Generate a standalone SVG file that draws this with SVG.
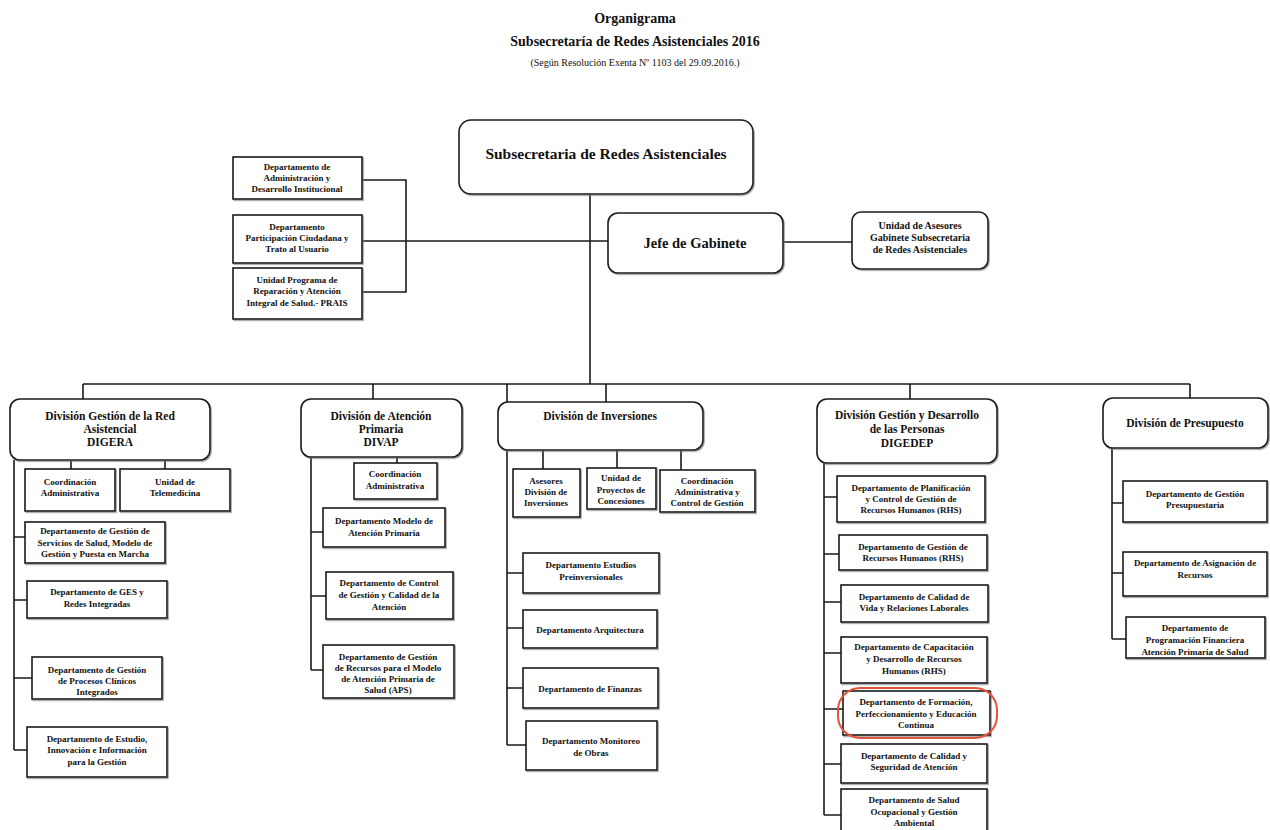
<svg xmlns="http://www.w3.org/2000/svg" width="1270" height="830" viewBox="0 0 1270 830">
<defs>
<filter id="sh" x="-5%" y="-5%" width="110%" height="115%">
<feDropShadow dx="1" dy="1.2" stdDeviation="0.6" flood-color="#777" flood-opacity="0.7"/>
</filter>
</defs>
<style>
text{font-family:"Liberation Serif","Times New Roman",serif;font-weight:bold;fill:#111;text-anchor:middle}
.box{fill:#fff;stroke:#1a1a1a;stroke-width:1.6;filter:url(#sh)}
.s{font-size:9px}
.m{font-size:10px}
.d{font-size:11.5px}
.l{font-size:14.5px}
.xl{font-size:15.5px}
.t{font-size:14px}
.st{font-size:10px;font-weight:normal}
#connectors path{fill:none;stroke:#1a1a1a;stroke-width:1.6}
.hl{fill:none;stroke:#e5533a;stroke-width:2}
</style>
<rect width="1270" height="830" fill="#fff"/>
<g id="title">
<text x="635" y="23" class="t">Organigrama</text>
<text x="635" y="46" class="t">Subsecretaría de Redes Asistenciales 2016</text>
<text x="635" y="66" class="st">(Según Resolución Exenta Nº 1103 del 29.09.2016.)</text>
</g>
<g id="connectors">
<path d="M590 194 V384"/>
<path d="M362 180 H406 V292 H362"/>
<path d="M362 241 H608"/>
<path d="M783 242 H852"/>
<path d="M83 384 H1190"/>
<path d="M83 384 V399 M373 384 V399 M507 384 V402 M606 384 V402 M910 384 V399 M1190 384 V398"/>
<path d="M71 460 V469 M165 460 V469"/>
<path d="M14 460 V750 M14 537 H25 M14 600 H27 M14 678 H32 M14 750 H27"/>
<path d="M397 457 V463"/>
<path d="M311 457 V670 M311 532 H323 M311 596 H326 M311 670 H323"/>
<path d="M543 450 V469 M617 450 V468 M681 450 V470"/>
<path d="M507 450 V745 M507 573 H523 M507 628 H523 M507 688 H523 M507 745 H526"/>
<path d="M824 463 V815 M824 497 H837 M824 554 H839 M824 602 H841 M824 653 H841 M824 709 H843 M824 764 H841 M824 815 H841"/>
<path d="M1112 448 V639 M1112 503 H1123 M1112 573 H1123 M1112 639 H1126"/>
</g>
<g id="subsecretaria">
<rect class="box" x="459" y="120" width="294" height="74" rx="12"/>
<text x="606" y="159" class="xl">Subsecretaria de Redes Asistenciales</text>
</g>
<g id="jefe-gabinete">
<rect class="box" x="608" y="213" width="175" height="60" rx="10"/>
<text x="695" y="248" class="l">Jefe de Gabinete</text>
</g>
<g id="unidad-asesores">
<rect class="box" x="852" y="212" width="136" height="57" rx="9"/>
<text x="920" y="229" class="m">Unidad de Asesores</text>
<text x="920" y="241" class="m">Gabinete Subsecretaria</text>
<text x="920" y="253" class="m">de Redes Asistenciales</text>
</g>
<g id="depto-administracion">
<rect class="box" x="233" y="157" width="129" height="42"/>
<text x="297" y="170" class="s">Departamento de</text>
<text x="297" y="181" class="s">Administración y</text>
<text x="297" y="192" class="s">Desarrollo Institucional</text>
</g>
<g id="depto-participacion">
<rect class="box" x="233" y="215" width="129" height="48"/>
<text x="297" y="230" class="s">Departamento</text>
<text x="297" y="241" class="s">Participación Ciudadana y</text>
<text x="297" y="252" class="s">Trato al Usuario</text>
</g>
<g id="unidad-prais">
<rect class="box" x="233" y="268" width="129" height="51"/>
<text x="297" y="283" class="s">Unidad Programa de</text>
<text x="297" y="294" class="s">Reparación y Atención</text>
<text x="297" y="306" class="s">Integral de Salud.- PRAIS</text>
</g>
<g id="digera">
<rect class="box" x="10" y="399" width="200" height="61" rx="10"/>
<text x="110" y="420" class="d">División Gestión de la Red</text>
<text x="110" y="433" class="d">Asistencial</text>
<text x="110" y="446" class="d">DIGERA</text>
</g>
<g id="digera-coord">
<rect class="box" x="25" y="469" width="90" height="42"/>
<text x="70" y="485" class="s">Coordinación</text>
<text x="70" y="496" class="s">Administrativa</text>
</g>
<g id="digera-telemedicina">
<rect class="box" x="120" y="469" width="110" height="42"/>
<text x="175" y="485" class="s">Unidad de</text>
<text x="175" y="496" class="s">Telemedicina</text>
</g>
<g id="digera-servicios">
<rect class="box" x="25" y="522" width="140" height="41"/>
<text x="95" y="534" class="s">Departamento de Gestión de</text>
<text x="95" y="546" class="s">Servicios de Salud, Modelo de</text>
<text x="95" y="557" class="s">Gestión y Puesta en Marcha</text>
</g>
<g id="digera-ges">
<rect class="box" x="27" y="581" width="140" height="37"/>
<text x="97" y="595" class="s">Departamento de GES y</text>
<text x="97" y="607" class="s">Redes Integradas</text>
</g>
<g id="digera-procesos">
<rect class="box" x="32" y="657" width="130" height="42"/>
<text x="97" y="673" class="s">Departamento de Gestión</text>
<text x="97" y="684" class="s">de Procesos Clínicos</text>
<text x="97" y="695" class="s">Integrados</text>
</g>
<g id="digera-estudio">
<rect class="box" x="27" y="727" width="140" height="50"/>
<text x="97" y="742" class="s">Departamento de Estudio,</text>
<text x="97" y="753" class="s">Innovación e Información</text>
<text x="97" y="765" class="s">para la Gestión</text>
</g>
<g id="divap">
<rect class="box" x="301" y="399" width="161" height="58" rx="10"/>
<text x="381" y="420" class="d">División de Atención</text>
<text x="381" y="433" class="d">Primaria</text>
<text x="381" y="446" class="d">DIVAP</text>
</g>
<g id="divap-coord">
<rect class="box" x="354" y="463" width="83" height="36"/>
<text x="395" y="477" class="s">Coordinación</text>
<text x="395" y="489" class="s">Administrativa</text>
</g>
<g id="divap-modelo">
<rect class="box" x="323" y="508" width="122" height="39"/>
<text x="384" y="524" class="s">Departamento Modelo de</text>
<text x="384" y="536" class="s">Atención Primaria</text>
</g>
<g id="divap-control">
<rect class="box" x="326" y="572" width="127" height="47"/>
<text x="389" y="586" class="s">Departamento de Control</text>
<text x="389" y="598" class="s">de Gestión y Calidad de la</text>
<text x="389" y="610" class="s">Atención</text>
</g>
<g id="divap-recursos">
<rect class="box" x="323" y="645" width="131" height="53"/>
<text x="388" y="660" class="s">Departamento de Gestión</text>
<text x="388" y="671" class="s">de Recursos para el Modelo</text>
<text x="388" y="682" class="s">de Atención Primaria de</text>
<text x="388" y="693" class="s">Salud (APS)</text>
</g>
<g id="inversiones">
<rect class="box" x="498" y="402" width="205" height="48" rx="10"/>
<text x="600" y="420" class="d">División de Inversiones</text>
</g>
<g id="inv-asesores">
<rect class="box" x="513" y="469" width="67" height="48"/>
<text x="546" y="484" class="s">Asesores</text>
<text x="546" y="495" class="s">División de</text>
<text x="546" y="506" class="s">Inversiones</text>
</g>
<g id="inv-concesiones">
<rect class="box" x="587" y="468" width="69" height="41"/>
<text x="621" y="481" class="s">Unidad de</text>
<text x="621" y="493" class="s">Proyectos de</text>
<text x="621" y="504" class="s">Concesiones</text>
</g>
<g id="inv-coord">
<rect class="box" x="660" y="470" width="95" height="42"/>
<text x="707" y="484" class="s">Coordinación</text>
<text x="707" y="495" class="s">Administrativa y</text>
<text x="707" y="506" class="s">Control de Gestión</text>
</g>
<g id="inv-estudios">
<rect class="box" x="523" y="553" width="136" height="40"/>
<text x="591" y="568" class="s">Departamento Estudios</text>
<text x="591" y="580" class="s">Preinversionales</text>
</g>
<g id="inv-arquitectura">
<rect class="box" x="523" y="610" width="134" height="38"/>
<text x="590" y="633" class="s">Departamento Arquitectura</text>
</g>
<g id="inv-finanzas">
<rect class="box" x="523" y="668" width="135" height="40"/>
<text x="590" y="692" class="s">Departamento de Finanzas</text>
</g>
<g id="inv-monitoreo">
<rect class="box" x="526" y="721" width="131" height="49"/>
<text x="591" y="744" class="s">Departamento Monitoreo</text>
<text x="591" y="756" class="s">de Obras</text>
</g>
<g id="digedep">
<rect class="box" x="817" y="399" width="180" height="64" rx="10"/>
<text x="907" y="419" class="d">División Gestión y Desarrollo</text>
<text x="907" y="433" class="d">de las Personas</text>
<text x="907" y="447" class="d">DIGEDEP</text>
</g>
<g id="digedep-planificacion">
<rect class="box" x="837" y="476" width="148" height="46"/>
<text x="911" y="491" class="s">Departamento de Planificación</text>
<text x="911" y="502" class="s">y Control de Gestión de</text>
<text x="911" y="513" class="s">Recursos Humanos (RHS)</text>
</g>
<g id="digedep-gestion">
<rect class="box" x="839" y="535" width="148" height="35"/>
<text x="913" y="550" class="s">Departamento de Gestión de</text>
<text x="913" y="561" class="s">Recursos Humanos (RHS)</text>
</g>
<g id="digedep-calidad-vida">
<rect class="box" x="841" y="585" width="147" height="37"/>
<text x="914" y="600" class="s">Departamento de Calidad de</text>
<text x="914" y="611" class="s">Vida y Relaciones Laborales</text>
</g>
<g id="digedep-capacitacion">
<rect class="box" x="841" y="637" width="146" height="46"/>
<text x="914" y="650" class="s">Departamento de Capacitación</text>
<text x="914" y="662" class="s">y Desarrollo de Recursos</text>
<text x="914" y="674" class="s">Humanos (RHS)</text>
</g>
<g id="digedep-formacion">
<rect class="box" x="843" y="691" width="147" height="44"/>
<text x="916" y="705" class="s">Departamento de Formación,</text>
<text x="916" y="717" class="s">Perfeccionamiento y Educación</text>
<text x="916" y="728" class="s">Continua</text>
<rect class="hl" x="838" y="688" width="159" height="50" rx="22"/>
</g>
<g id="digedep-calidad-seguridad">
<rect class="box" x="841" y="744" width="146" height="39"/>
<text x="914" y="759" class="s">Departamento de Calidad y</text>
<text x="914" y="770" class="s">Seguridad de Atención</text>
</g>
<g id="digedep-salud-ocupacional">
<rect class="box" x="841" y="789" width="146" height="50"/>
<text x="914" y="803" class="s">Departamento de Salud</text>
<text x="914" y="815" class="s">Ocupacional y Gestión</text>
<text x="914" y="826" class="s">Ambiental</text>
</g>
<g id="presupuesto">
<rect class="box" x="1103" y="398" width="165" height="50" rx="10"/>
<text x="1185" y="427" class="d">División de Presupuesto</text>
</g>
<g id="pres-gestion">
<rect class="box" x="1123" y="481" width="144" height="41"/>
<text x="1195" y="497" class="s">Departamento de Gestión</text>
<text x="1195" y="508" class="s">Presupuestaria</text>
</g>
<g id="pres-asignacion">
<rect class="box" x="1123" y="552" width="144" height="44"/>
<text x="1195" y="566" class="s">Departamento de Asignación de</text>
<text x="1195" y="578" class="s">Recursos</text>
</g>
<g id="pres-programacion">
<rect class="box" x="1126" y="617" width="139" height="41"/>
<text x="1195" y="631" class="s">Departamento de</text>
<text x="1195" y="643" class="s">Programación Financiera</text>
<text x="1195" y="655" class="s">Atención Primaria de Salud</text>
</g>
</svg>
